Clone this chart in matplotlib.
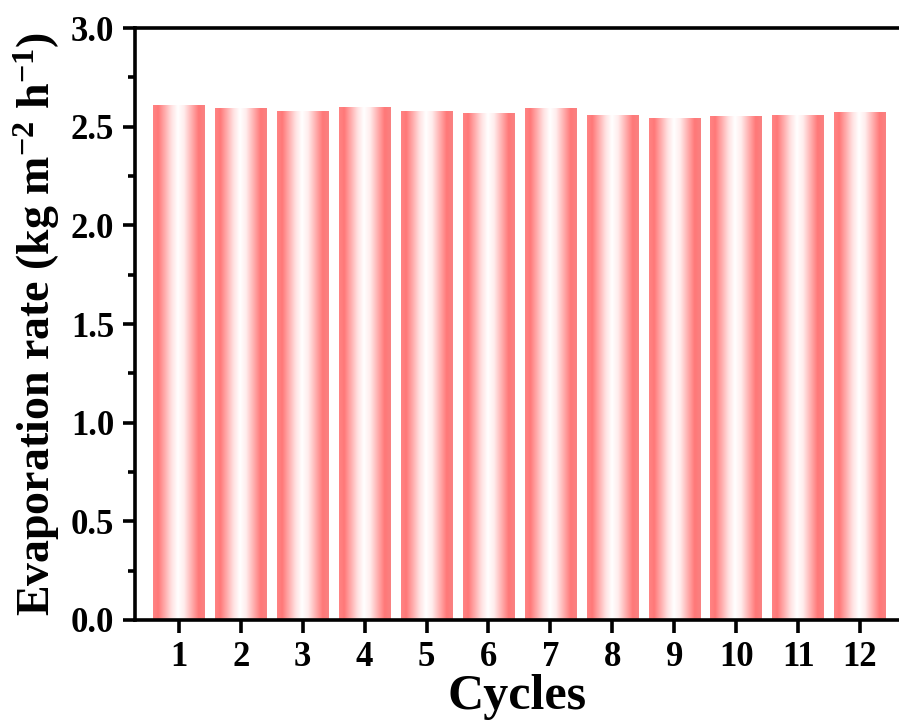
import matplotlib
matplotlib.use('Agg')
import matplotlib.pyplot as plt
import numpy as np
from matplotlib.colors import LinearSegmentedColormap
from matplotlib.ticker import MultipleLocator

# Данные: номер цикла и скорость испарения
cycles = list(range(1, 13))
rates = [2.61, 2.595, 2.578, 2.602, 2.578, 2.57, 2.595, 2.56, 2.546, 2.553, 2.56, 2.576]

plt.rcParams['font.family'] = ['Liberation Serif', 'DejaVu Serif']
plt.rcParams['font.weight'] = 'bold'
plt.rcParams['mathtext.fontset'] = 'custom'
plt.rcParams['mathtext.rm'] = 'Liberation Serif:bold'
plt.rcParams['mathtext.it'] = 'Liberation Serif:bold'
plt.rcParams['mathtext.bf'] = 'Liberation Serif:bold'

fig = plt.figure(figsize=(8.99, 7.22), dpi=100)
ax = fig.add_axes([0.150, 0.1413, 0.85, 0.8197])

# Градиент: красный по краям, белый в середине
cmap = LinearSegmentedColormap.from_list(
    'redwhite', [(0.0, '#ff8484'), (0.1, '#ff7878'), (0.36, '#ffe2e2'),
                 (0.48, '#ffffff'), (0.6, '#ffecec'), (0.88, '#ff7878'), (1.0, '#f98282')])
grad = np.linspace(0, 1, 256).reshape(1, -1)

bars = ax.bar(cycles, rates, width=0.83, color='none', edgecolor='none')
for b in bars:
    x0, y0 = b.get_x(), b.get_y()
    w, h = b.get_width(), b.get_height()
    im = ax.imshow(grad, cmap=cmap, aspect='auto', extent=[x0, x0 + w, y0, y0 + h],
                   interpolation='bilinear', zorder=2)
    im.set_clip_path(b)

ax.set_xlim(0.29, 12.63)
ax.set_ylim(0, 3.0)
ax.set_xticks(cycles)
ax.yaxis.set_major_locator(MultipleLocator(0.5))
ax.yaxis.set_minor_locator(MultipleLocator(0.25))
ax.yaxis.set_major_formatter(matplotlib.ticker.FormatStrFormatter('%.1f'))

for s in ['left', 'bottom', 'top']:
    ax.spines[s].set_linewidth(2.6)
ax.spines['right'].set_visible(False)

ax.tick_params(axis='both', which='major', direction='out', length=9, width=2.6,
               labelsize=25, pad=6)
ax.tick_params(axis='y', which='minor', direction='out', length=5, width=2.6)
ax.tick_params(axis='x', top=False)

ax.set_xlabel('Cycles', fontsize=36, fontweight='bold', labelpad=0)
ax.set_ylabel('Evaporation rate (kg m$^{-2}$ h$^{-1}$)', fontsize=33,
              fontweight='bold', labelpad=6)

plt.savefig('out.png', dpi=100)
